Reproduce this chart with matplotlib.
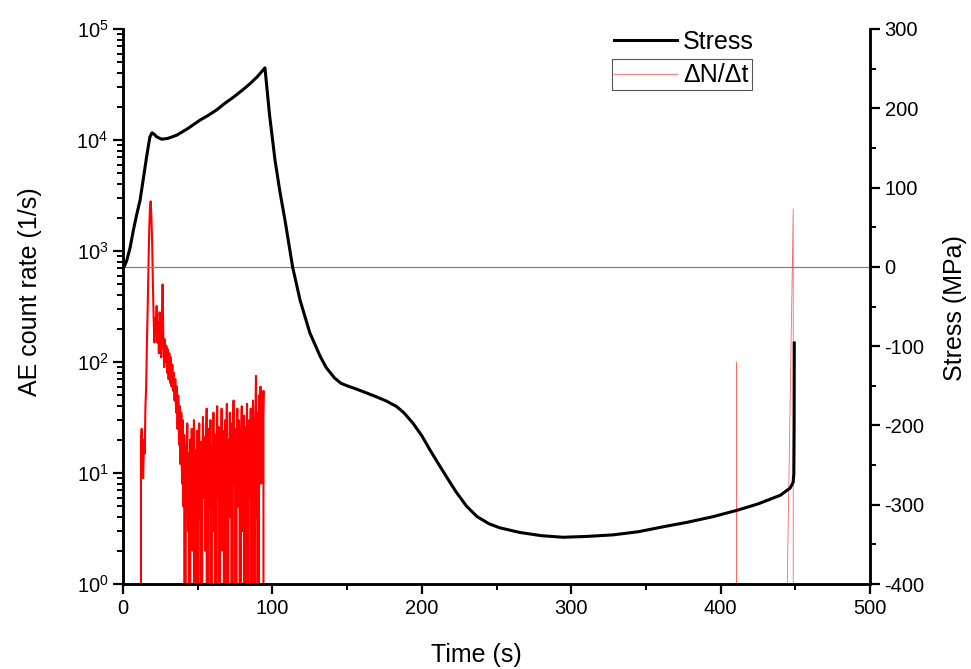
import numpy as np
import matplotlib
matplotlib.use("Agg")
import matplotlib.pyplot as plt
from matplotlib.patches import Rectangle
from matplotlib.lines import Line2D
from matplotlib.ticker import MultipleLocator, LogLocator, NullFormatter

plt.rcParams['font.family'] = ['Liberation Sans', 'DejaVu Sans']
plt.rcParams['axes.unicode_minus'] = False
plt.rcParams['path.simplify'] = False

# stress curve (right axis)
stress_t = [0, 0.7, 2.5, 4.7, 6.9, 9.4, 11.4, 13.5, 15.8, 18, 19.4, 21, 22.5, 25.8,
            30, 35.9, 43, 51.5, 57, 62.7, 68, 73.9, 80, 85, 90, 95,
            98, 101.7, 105, 108.4, 113.5, 118.5, 125, 132, 136, 141.5, 146, 150,
            156, 163, 169.7, 176, 183, 188, 194, 200, 205.5, 211, 216.6, 223,
            230, 237, 245, 252, 265.7, 280,
            294.5, 310, 328, 345, 361, 378, 395, 411, 425, 440, 446.5, 448.5,
            449, 449.2, 449.3]
stress = [0, 0, 8, 24, 46, 68, 84, 110, 139, 164, 169, 167, 164, 161,
          162, 166, 174, 185, 191, 198, 206, 214, 223, 231, 240, 251,
          193, 135, 95, 59, 0, -42, -83, -113, -127, -140, -147, -150,
          -154, -159, -164, -169, -176, -184, -197, -213, -231, -248, -265, -284,
          -302, -315, -324, -329, -335, -339,
          -341, -340, -338, -334, -328, -322, -315, -307, -299, -288, -279, -272,
          -262, -200, -96]

# AE count rate, early burst (0.5 s steps starting at 11 s)
ae_start = 11.0
ae_rate = [0, 0, 20, 25, 12, 9, 20, 15, 40, 60,
           150, 300, 700, 1500, 2400, 2800, 2000, 1200, 500,
           250, 150, 250, 180, 320, 150, 230, 120, 280, 170,
           110, 200, 500, 150, 90, 160, 100, 140, 80, 130,
           70, 120, 65, 110, 60, 95, 55, 80, 45, 70,
           35, 60, 25, 50, 18, 40, 12, 35, 8,
           30, 5, 22, 0, 18, 9, 28, 3, 15, 0,
           20, 7, 25, 2, 12, 30, 0, 16, 6, 24,
           0, 14, 28, 4, 19, 0, 10, 32, 6, 21,
           2, 15, 38, 0, 12, 25, 5, 30, 0, 18,
           8, 35, 3, 22, 0, 14, 40, 6, 26, 0,
           17, 9, 38, 2, 24, 12, 0, 30, 7, 42,
           0, 20, 10, 35, 4, 28, 0, 16, 45, 8,
           25, 0, 14, 38, 5, 30, 12, 0, 22, 40,
           3, 18, 33, 0, 26, 9, 42, 0, 15, 30,
           6, 38, 0, 20, 45, 10, 0, 28, 75, 4,
           35, 0, 50, 18, 60, 8, 40, 25, 55, 0]
ae_t = ae_start + 0.5 * np.arange(len(ae_rate))

# late AE events
late1_t = [410.5, 410.6, 410.7]
late1_rate = [0, 100, 0]
late2_t = [444.5, 444.6, 448.6, 448.7]
late2_rate = [0, 1.0, 2400, 0]

fig = plt.figure(figsize=(9.71, 6.69), dpi=100)
ax1 = fig.add_axes([0.1267, 0.127, 0.7693, 0.8297])
ax2 = ax1.twinx()

ax1.plot(ae_t, ae_rate, color='red', lw=1.5)
ax1.plot(late1_t, late1_rate, color='red', lw=0.6, alpha=0.6)
ax1.plot(late2_t, late2_rate, color='red', lw=0.6, alpha=0.6)
ax1.set_yscale('log')
ax1.set_ylim(1, 1e5)
ax1.set_xlim(0, 500)

ax2.axhline(0, color='#808080', lw=0.9)
ln_st, = ax2.plot(stress_t, stress, color='black', lw=2.2)
ax2.set_ylim(-400, 300)

ax1.set_xlabel('Time (s)', fontsize=18)
ax1.set_ylabel('AE count rate (1/s)', fontsize=18)
ax2.set_ylabel('Stress (MPa)', fontsize=18)
ax1.xaxis.set_label_coords(0.4726, -0.106)
ax1.yaxis.set_label_coords(-0.108, 0.526)
ax2.yaxis.set_label_coords(1.098, 0.497)

ax1.xaxis.set_major_locator(MultipleLocator(100))
ax1.xaxis.set_minor_locator(MultipleLocator(50))
ax1.yaxis.set_major_locator(LogLocator(base=10, numticks=10))
ax1.yaxis.set_minor_locator(LogLocator(base=10, subs=np.arange(2, 10), numticks=20))
ax1.yaxis.set_minor_formatter(NullFormatter())
ax2.yaxis.set_major_locator(MultipleLocator(100))
ax2.yaxis.set_minor_locator(MultipleLocator(50))

for ax in (ax1, ax2):
    ax.tick_params(which='major', direction='out', length=7, width=1.6, labelsize=14.5)
    ax.tick_params(which='minor', direction='out', length=4, width=1.4)
    ax.spines['top'].set_visible(False)
    for s in ('left', 'right', 'bottom'):
        ax.spines[s].set_linewidth(1.8)

ae_handle = Line2D([], [], color='#f08a8a', lw=1.0)
leg = ax1.legend([ln_st, ae_handle], ['Stress', 'ΔN/Δt'], loc='upper left',
                 bbox_to_anchor=(614 / 971, 1 - 30 / 669), bbox_transform=fig.transFigure,
                 frameon=False, fontsize=18, borderpad=0, borderaxespad=0,
                 handlelength=2.5, handletextpad=0.25, labelspacing=0.38)
fig.add_artist(Rectangle((612 / 971, 1 - 90 / 669), 140 / 971, 31 / 669,
                         transform=fig.transFigure, fill=False,
                         edgecolor='#555555', lw=0.8))

fig.savefig('out.png', dpi=100)
